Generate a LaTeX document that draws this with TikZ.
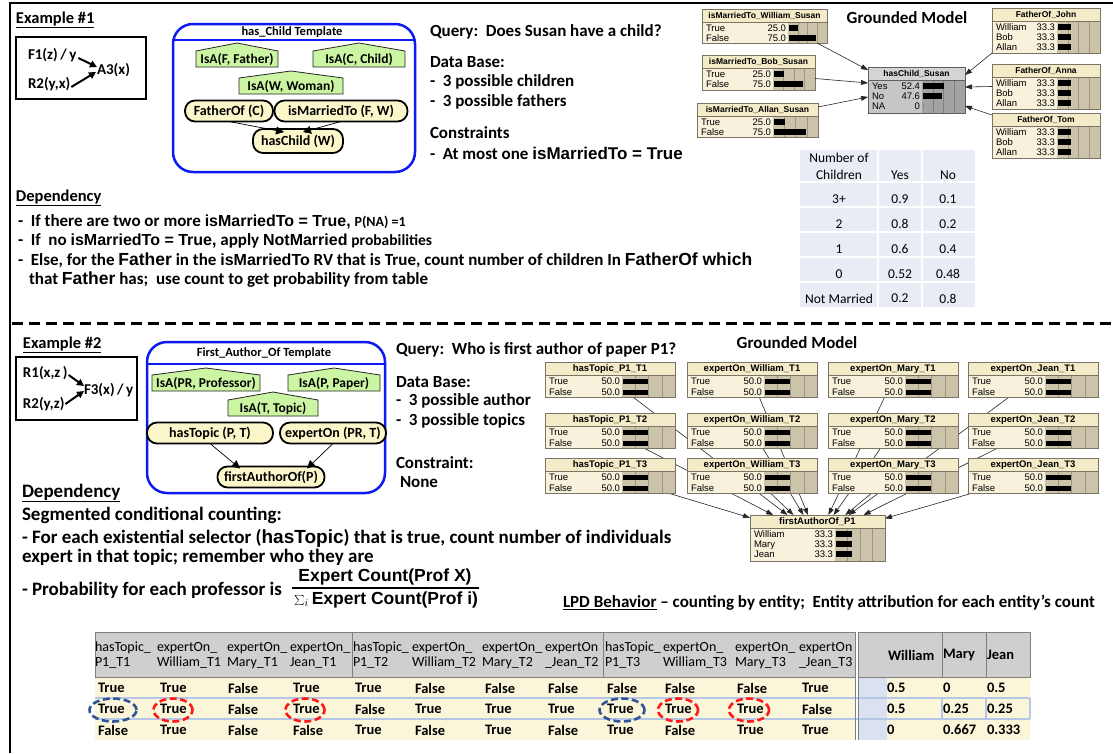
\documentclass[tikz,border=0pt]{standalone}
\usepackage{fontspec}
\setmainfont{Carlito}
\newfontfamily\arialf{Liberation Sans}
\usetikzlibrary{arrows.meta,backgrounds,shapes.geometric}

\definecolor{tplblue}{HTML}{0D1BF2}
\definecolor{isagreen}{HTML}{CCF5A3}
\definecolor{rvfill}{HTML}{FCF7CA}
\definecolor{bntit}{HTML}{F4EBC9}
\definecolor{bnlab}{HTML}{F8F1DB}
\definecolor{bnbar}{HTML}{CBC3AA}
\definecolor{bngrid}{HTML}{9F9680}
\definecolor{bnedge}{HTML}{7B7464}
\definecolor{hctit}{HTML}{D4D4D4}
\definecolor{hclab}{HTML}{C7C7C7}
\definecolor{hcbar}{HTML}{A3A3A3}
\definecolor{hcgrid}{HTML}{7E7E7E}
\definecolor{hcedge}{HTML}{5E5E5E}
\definecolor{cellblue}{HTML}{E9EBF5}
\definecolor{hdrgray}{HTML}{D0CECE}
\definecolor{hdrline}{HTML}{7F7F7F}
\definecolor{rowcream}{HTML}{FBF6DA}
\definecolor{rowline}{HTML}{B4C7E7}
\definecolor{wcol}{HTML}{D9E1F2}
\definecolor{selblue}{HTML}{2F5597}
\definecolor{cntred}{HTML}{FF1A1A}

\newcommand{\fsz}[1]{\fontsize{#1}{#1}\selectfont}
\newcommand{\arb}[2]{{\arialf\bfseries\fontsize{#1}{#1}\selectfont #2}}
\newcommand{\arr}[2]{{\arialf\fontsize{#1}{#1}\selectfont #2}}

% row pitch of the belief-bar nodes
\newcommand{\bnrh}{10}
% belief-bar node: name, left, top, width, height, label-column width, title, colour set, rows
\newcommand{\bnnode}[9]{%
  \node[anchor=north west, fill=#8lab, minimum width=#4pt, minimum height=#5pt] (#1) at (#2,#3) {};
  \fill[#8bar] (#2+#6,#3+13) rectangle (#2+#4,#3+#5);
  \foreach \q in {0.25,0.5,0.75}
    \draw[#8grid, line width=0.5pt] ({#2+#6+\q*(#4-#6)},#3+13) -- ({#2+#6+\q*(#4-#6)},#3+#5);
  \fill[#8tit] (#2,#3) rectangle (#2+#4,#3+13);
  \draw[#8edge, line width=0.6pt] (#2,#3+13) -- (#2+#4,#3+13);
  \node[bntitle] (#1-t) at (#2+#4/2,#3+6.8) {#7};
  \foreach \lab/\val/\fr [count=\k] in {#9} {
    \pgfmathsetmacro\yc{#3+14+(\k-0.5)*\bnrh}
    \pgfmathsetmacro\bl{\fr*(#4-#6-3)}
    \node[bnrow, anchor=west] (#1-l\k) at (#2+4,\yc) {\lab};
    \node[bnrow, anchor=east] (#1-v\k) at (#2+#6-2,\yc) {\val};
    \fill[black] (#2+#6+1,\yc-2.8) rectangle ++(\bl,5.6);
  }
  \draw[#8edge, line width=0.9pt] (#1.north west) rectangle (#1.south east);
}
% class node with a shallow roof: name, left, right, roof top, eaves, bottom, text
\newcommand{\isahouse}[7]{%
  \filldraw[isashape] (#2,#6) -- (#2,#5) -- ({(#2+#3)/2},#4) -- (#3,#5) -- (#3,#6) -- cycle;
  \node[isatext] (#1) at ({(#2+#3)/2},{(#5+#6)/2+0.5}) {#7};
}

\tikzset{
  every node/.style={inner sep=0pt, outer sep=0pt},
  lbl/.style={anchor=west, font=\bfseries\fsz{17}},
  exlabel/.style={anchor=west, font=\bfseries\fsz{16.5}},
  rtext/.style={anchor=west, font=\bfseries\fsz{15}},
  rulebox/.style={draw, line width=2pt, anchor=north west},
  rarrow/.style={-{Triangle[length=7pt,width=7pt]}, line width=2pt},
  tplbox/.style={draw=tplblue, line width=2.5pt, rounded corners=20pt, anchor=north west},
  tplline/.style={draw=tplblue, line width=2pt},
  tpltitle/.style={font=\bfseries\fsz{12.5}},
  isashape/.style={fill=isagreen, draw=black!85, line width=0.8pt},
  isatext/.style={font=\bfseries\fsz{13.5}},
  rv/.style={draw=black, line width=1.8pt, fill=rvfill, rounded corners=10pt,
             minimum height=21pt, font=\bfseries\fsz{14}},
  rvarrow/.style={-{Triangle[length=8pt,width=8pt]}, line width=0.7pt},
  bntitle/.style={font=\arialf\bfseries\fsz{8.5}},
  bnrow/.style={font=\arialf\fsz{9.5}, text height=6.8pt, text depth=0pt},
  bnarrow/.style={-{Triangle[length=7pt,width=5pt]}, line width=0.6pt, black!85},
  gmtitle/.style={font=\bfseries\fsz{17}},
  dep/.style={anchor=west, font=\bfseries\fsz{17}},
  dep2/.style={anchor=west, font=\bfseries\fsz{19}},
  cell/.style={font=\fsz{13.5}},
  hdr/.style={anchor=west, font=\fsz{14}},
  val/.style={anchor=west, font=\bfseries\fsz{14.5}},
  dashsel/.style={ellipse, draw=selblue, line width=2.6pt, dash pattern=on 7pt off 3.5pt, minimum height=23pt},
  dashcnt/.style={ellipse, draw=cntred, line width=2.6pt, dash pattern=on 7pt off 3.5pt, minimum height=23pt},
}

\begin{document}
\begin{tikzpicture}[x=1pt, y=-1pt]
\useasboundingbox (0,0) rectangle (1113,753);
\begin{pgfonlayer}{background}
  \fill[white] (0,0) rectangle (1113,753);
\end{pgfonlayer}

% outer frame and the divider between the two examples
\draw[line width=2pt] (10,753) -- (10,3) -- (1113,3);
\draw[line width=3pt, dash pattern=on 11pt off 6pt] (12,323) -- (1113,323);

% ---------------- Example 1 ----------------
\node[exlabel] (ex1) at (16,20) {\underline{Example \#1}};
\node[rulebox, minimum width=130pt, minimum height=62pt] (rb1) at (16,37) {};
\node[rtext] (f1) at (28,55) {F1(z)\,/\,y};
\node[rtext] (r2a) at (28,84) {R2(y,x)};
\node[rtext] (a3) at (97,70) {A3(x)};
\draw[rarrow] ([xshift=2pt,yshift=-3pt]f1.east) -- ([yshift=3pt]a3.west);
\draw[rarrow] ([xshift=1pt,yshift=-3pt]r2a.east) -- ([xshift=-1pt,yshift=-2pt]a3.west);

% has_Child template
\node[tplbox, minimum width=242pt, minimum height=148pt] (tplA) at (173,24) {};
\draw[tplline] ([yshift=-16pt]tplA.north west) -- ([yshift=-16pt]tplA.north east);
\node[tpltitle] (tplAt) at (292,32) {has\_Child Template};
\isahouse{isaF}{196}{278}{43}{51}{67}{IsA(F, Father)}
\isahouse{isaC}{313}{405}{43}{51}{67}{IsA(C, Child)}
\isahouse{isaW}{239}{343}{71}{78}{94}{IsA(W, Woman)}
\node[rv, minimum width=88pt] (faC) at (229,111) {FatherOf (C)};
\node[rv, minimum width=133pt] (imFW) at (341,111) {isMarriedTo (F, W)};
\node[rv, minimum width=90pt, minimum height=24pt] (hcW) at (298,141) {hasChild (W)};
\draw[rvarrow] (faC.south) -- ([xshift=-14pt,yshift=-3pt]hcW.north);
\draw[rvarrow] (imFW.south) -- ([xshift=5pt,yshift=-3pt]hcW.north);

% query, data base and constraints
\node[lbl] (q1) at (430,32) {Query:\ \ Does Susan have a child?};
\node[lbl] (db1) at (430,62) {Data Base:};
\node[lbl] (db1a) at (430,82) {-\ \ 3 possible children};
\node[lbl] (db1b) at (430,102) {-\ \ 3 possible fathers};
\node[lbl] (cs1) at (430,133) {Constraints};
\node[lbl] (cs1a) at (430,153) {-\ \ At most one \arb{17}{isMarriedTo = True}};

% dependency description
\node[dep, font=\bfseries\fsz{16.5}] (dp1) at (16,198) {\underline{Dependency}};
\node[dep] (dp1a) at (18,222) {-\ \ If there are two or more \arb{16}{isMarriedTo = True,} {\fsz{14}P(NA) =1}};
\node[dep] (dp1b) at (18,241) {-\ \ If\ \ no \arb{16}{isMarriedTo = True,} apply \arb{16}{NotMarried} {\fsz{15.5}probabilities}};
\node[dep] (dp1c) at (18,260) {-\ \ Else, for the \arr{17.5}{Father} in the \arb{16}{isMarriedTo} RV that is True, count number of children In \arr{17.5}{FatherOf which}};
\node[dep] (dp1d) at (29,280) {that \arr{17.5}{Father} has;\ \ use count to get probability from table};

% grounded network for example 1
\node[gmtitle] (gm1) at (907,18) {Grounded Model};
\renewcommand{\bnrh}{10}
\bnnode{mW}{702}{9}{125}{34}{86}{isMarriedTo\_William\_Susan}{bn}{True/25.0/0.25, False/75.0/0.75}
\bnnode{mB}{702}{55}{113}{35}{71}{isMarriedTo\_Bob\_Susan}{bn}{True/25.0/0.25, False/75.0/0.75}
\bnnode{mA}{697}{103}{121}{34}{76}{isMarriedTo\_Allan\_Susan}{bn}{True/25.0/0.25, False/75.0/0.75}
\bnnode{hc}{868}{67}{97}{46}{54}{hasChild\_Susan}{hc}{Yes/52.4/0.524, No/47.6/0.476, NA/0/0}
\bnnode{fJ}{992}{8}{108}{45}{65}{FatherOf\_John}{bn}{William/33.3/0.333, Bob/33.3/0.333, Allan/33.3/0.333}
\bnnode{fA}{992}{64}{108}{45}{65}{FatherOf\_Anna}{bn}{William/33.3/0.333, Bob/33.3/0.333, Allan/33.3/0.333}
\bnnode{fT}{992}{113}{108}{45}{65}{FatherOf\_Tom}{bn}{William/33.3/0.333, Bob/33.3/0.333, Allan/33.3/0.333}
\draw[bnarrow] ([xshift=-10pt]mW.south east) -- ([yshift=20pt]hc.west);
\draw[bnarrow] ([yshift=-6pt]mB.east) -- ([yshift=7pt]hc.west);
\draw[bnarrow] ([yshift=13pt]mA.east) -- ([yshift=-7pt]hc.west);
\draw[bnarrow] (fJ.south west) -- ([yshift=15pt]hc.east);
\draw[bnarrow] (fA.west) -- ([yshift=3pt]hc.east);
\draw[bnarrow] ([yshift=-2pt]fT.north west) -- ([yshift=-16pt]hc.east);

% probability table by number of children
\fill[cellblue] (800,150) rectangle (975,307);
\foreach \yy in {182,207,232,257,282} \draw[white, line width=2pt] (800,\yy) -- (975,\yy);
\foreach \xx in {878,922} \draw[white, line width=2pt] (\xx,150) -- (\xx,307);
\node[cell] (nc1) at (839,158) {Number of};
\node[cell] (nc2) at (839,175) {Children};
\node[cell] (ncy) at (900,175) {Yes};
\node[cell] (ncn) at (948,175) {No};
\foreach \nm/\ya/\yb [count=\k] in {3+/0.9/0.1, 2/0.8/0.2, 1/0.6/0.4, 0/0.52/0.48, Not Married/0.2/0.8} {
  \pgfmathsetmacro\yr{174.5+24.8*\k}
  \node[cell] (cn\k) at (839,\yr) {\nm};
  \node[cell] (cy\k) at (900,\yr) {\ya};
  \node[cell] (cz\k) at (948,\yr) {\yb};
}

% ---------------- Example 2 ----------------
\node[exlabel] (ex2) at (23,345) {\underline{Example \#2}};
\node[rulebox, minimum width=121pt, minimum height=63pt] (rb2) at (16,357) {};
\node[rtext] (r1b) at (23,373) {R1(x,z\,)};
\node[rtext] (r2b) at (23,404) {R2(y,z)};
\node[rtext] (f3) at (84,390) {F3(x)\,/\,y};
\draw[rarrow] ([xshift=1pt,yshift=-2pt]r1b.east) -- ([yshift=4pt]f3.west);
\draw[rarrow] ([xshift=1pt]r2b.east) -- ([yshift=-1pt]f3.west);

% First_Author_Of template
\node[tplbox, minimum width=238pt, minimum height=151pt] (tplB) at (147,342) {};
\draw[tplline] ([yshift=-22pt]tplB.north west) -- ([yshift=-22pt]tplB.north east);
\node[tpltitle] (tplBt) at (264,353) {First\_Author\_Of Template};
\isahouse{isaPR}{152}{260}{368}{375}{391}{IsA(PR, Professor)}
\isahouse{isaP}{288}{380}{368}{375}{391}{IsA(P, Paper)}
\isahouse{isaT}{228}{318}{392}{400}{416}{IsA(T, Topic)}
\node[rv, minimum width=126pt] (htPT) at (210,433) {hasTopic (P, T)};
\node[rv, minimum width=106pt] (eoPRT) at (333,433) {expertOn (PR, T)};
\node[rv, minimum width=107pt] (faP) at (271,477) {firstAuthorOf(P)};
\draw[rvarrow] (htPT.south) -- ([xshift=-31pt,yshift=-2pt]faP.north);
\draw[rvarrow] (eoPRT.south) -- ([xshift=36pt,yshift=-2pt]faP.north);

% query, data base and constraint
\node[lbl] (q2) at (396,350) {Query:\ \ Who is first author of paper P1?};
\node[lbl] (db2) at (396,382) {Data Base:};
\node[lbl] (db2a) at (396,401) {-\ \ 3 possible author};
\node[lbl] (db2b) at (396,421) {-\ \ 3 possible topics};
\node[lbl] (cs2) at (396,463) {Constraint:};
\node[lbl] (cs2a) at (400,482) {None};

% dependency description
\node[dep2] (dp2) at (22,493) {\underline{Dependency}};
\node[dep2] (dp2a) at (22,515) {Segmented conditional counting:};
\node[dep2] (dp2b) at (22,538) {- For each existential selector (\arr{19}{hasTopic}) that is true, count number of individuals};
\node[dep2] (dp2c) at (22,557) {expert in that topic; remember who they are};
\node[dep2] (dp2d) at (22,590) {- Probability for each professor is};
\node[font=\arialf\bfseries\fsz{17.5}] (numX) at (385,577) {Expert Count(Prof X)};
\node[font=\arialf\bfseries\fsz{17.5}] (denX) at (386,600) {{\fsz{15}$\sum_i$}\,Expert Count(Prof i)};
\draw[line width=1.2pt] ([xshift=-2pt]denX.north west |- 0,588) -- ([xshift=1pt]denX.north east |- 0,588);

% grounded network for example 2
\node[gmtitle] (gm2) at (797,343) {Grounded Model};
\tikzset{bntitle/.style={font=\arialf\bfseries\fsz{9.5}}}
\renewcommand{\bnrh}{11}
\bnnode{htA}{545}{362}{130}{35}{77}{hasTopic\_P1\_T1}{bn}{True/50.0/0.5, False/50.0/0.5}
\bnnode{htB}{545}{413}{130}{35}{77}{hasTopic\_P1\_T2}{bn}{True/50.0/0.5, False/50.0/0.5}
\bnnode{htC}{545}{458}{130}{35}{77}{hasTopic\_P1\_T3}{bn}{True/50.0/0.5, False/50.0/0.5}
\bnnode{ewA}{687}{362}{130}{35}{77}{expertOn\_William\_T1}{bn}{True/50.0/0.5, False/50.0/0.5}
\bnnode{ewB}{687}{413}{130}{35}{77}{expertOn\_William\_T2}{bn}{True/50.0/0.5, False/50.0/0.5}
\bnnode{ewC}{687}{458}{130}{35}{77}{expertOn\_William\_T3}{bn}{True/50.0/0.5, False/50.0/0.5}
\bnnode{emA}{828}{362}{130}{35}{77}{expertOn\_Mary\_T1}{bn}{True/50.0/0.5, False/50.0/0.5}
\bnnode{emB}{828}{413}{130}{35}{77}{expertOn\_Mary\_T2}{bn}{True/50.0/0.5, False/50.0/0.5}
\bnnode{emC}{828}{458}{130}{35}{77}{expertOn\_Mary\_T3}{bn}{True/50.0/0.5, False/50.0/0.5}
\bnnode{ejA}{968}{362}{130}{35}{77}{expertOn\_Jean\_T1}{bn}{True/50.0/0.5, False/50.0/0.5}
\bnnode{ejB}{968}{413}{130}{35}{77}{expertOn\_Jean\_T2}{bn}{True/50.0/0.5, False/50.0/0.5}
\bnnode{ejC}{968}{458}{130}{35}{77}{expertOn\_Jean\_T3}{bn}{True/50.0/0.5, False/50.0/0.5}
\renewcommand{\bnrh}{10}
\bnnode{fa}{750}{515}{135}{46}{85}{firstAuthorOf\_P1}{bn}{William/33.3/0.333, Mary/33.3/0.333, Jean/33.3/0.333}
\begin{pgfonlayer}{background}
  \foreach \src in {htA,htB,htC,ewA,ewB,ewC,emA,emB,emC,ejA,ejB,ejC}
    \draw[bnarrow] (\src) -- (fa);
\end{pgfonlayer}

% LPD behaviour table
\node[anchor=west, font=\bfseries\fsz{17}] (lpd) at (563,603) {\underline{LPD Behavior} -- counting by entity;\ \ Entity attribution for each entity’s count};
\fill[hdrgray] (95,632) rectangle (855,677);
\fill[hdrgray] (858,632) rectangle (1030,677);
\fill[rowcream] (95,677) rectangle (855,740);
\fill[rowcream] (858,677) rectangle (1030,740);
\fill[wcol] (858,677) rectangle (887,740);
\draw[rowline, line width=1.3pt] (95,698) -- (1030,698) (95,719) -- (1030,719);
\draw[rowline, line width=1.3pt] (942,698) -- (942,719) (986,698) -- (986,719) (1030,698) -- (1030,719);
\draw[hdrline, line width=1pt] (95,632) rectangle (855,677);
\draw[hdrline, line width=1pt] (858,632) rectangle (1030,677);
\draw[hdrline, line width=1pt] (352,632) -- (352,677) (603,632) -- (603,677) (942,632) -- (942,677) (986,632) -- (986,677);
\draw[hdrline, line width=1pt] (855,677) -- (855,740) (858,677) -- (858,740);
\foreach \xa/\ha/\hb [count=\k] in {95/hasTopic\_/P1\_T1, 157/expertOn\_/William\_T1, 227/expertOn\_/Mary\_T1, 290/expertOn\_/Jean\_T1,
    353/hasTopic\_/P1\_T2, 412/expertOn\_/William\_T2, 482/expertOn\_/Mary\_T2, 545/expertOn/\_Jean\_T2,
    605/hasTopic\_/P1\_T3, 663/expertOn\_/William\_T3, 735/expertOn\_/Mary\_T3, 799/expertOn/\_Jean\_T3} {
  \node[hdr] (hA\k) at (\xa,648) {\ha};
  \node[hdr] (hB\k) at (\xa,663) {\hb};
}
\node[anchor=west, font=\bfseries\fsz{14.5}] (hW) at (888,655) {William};
\node[anchor=west, font=\bfseries\fsz{14.5}] (hM) at (943,655) {Mary};
\node[anchor=west, font=\bfseries\fsz{14.5}] (hJ) at (987,655) {Jean};
\foreach \xa/\v [count=\c] in {98/True,160/True,228/False,293/True,355/True,415/False,485/False,548/False,
    607/False,665/False,737/False,802/True,887/0.5,943/0,987/0.5}
  \node[val] (ra\c) at (\xa,688) {\v};
\foreach \xa/\v [count=\c] in {98/True,160/True,228/False,293/True,355/False,415/True,485/True,548/True,
    607/True,665/True,737/True,802/False,887/0.5,943/0.25,987/0.25}
  \node[val] (rb\c) at (\xa,709) {\v};
\foreach \xa/\v [count=\c] in {98/False,160/True,228/False,293/False,355/True,415/False,485/True,548/False,
    607/True,665/False,737/True,802/True,887/0,943/0.667,987/0.333}
  \node[val] (rc\c) at (\xa,730) {\v};
\node[dashsel, minimum width=47pt] (sel1) at (113,710) {};
\node[dashcnt, minimum width=39pt] (cnt1) at (173,710) {};
\node[dashcnt, minimum width=39pt] (cnt2) at (305,710) {};
\node[dashsel, minimum width=45pt] (sel3) at (622,710) {};
\node[dashcnt, minimum width=40pt] (cnt3) at (678,710) {};
\node[dashcnt, minimum width=40pt] (cnt4) at (749,710) {};
\end{tikzpicture}
\end{document}
